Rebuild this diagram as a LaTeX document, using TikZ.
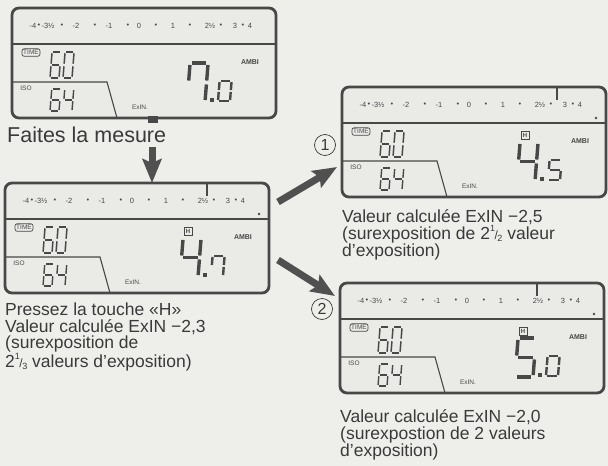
\documentclass[tikz,border=0pt]{standalone}
\usepackage{fontspec}
\setmainfont{Liberation Sans}
\usetikzlibrary{arrows.meta}
\definecolor{paper}{RGB}{238,238,235}
\definecolor{lcdbg}{RGB}{234,234,231}
\definecolor{lcd}{RGB}{72,72,72}
\definecolor{ink}{RGB}{58,58,58}
\definecolor{arrowgray}{RGB}{80,80,80}
% seven segments a..g in a 1 x 2 box
\newcommand{\sga}{\draw[seg] (0.1,2) -- (0.9,2);}
\newcommand{\sgb}{\draw[seg] (1,1.9) -- (1,1.1);}
\newcommand{\sgc}{\draw[seg] (1,0.9) -- (1,0.1);}
\newcommand{\sgd}{\draw[seg] (0.1,0) -- (0.9,0);}
\newcommand{\sge}{\draw[seg] (0,0.1) -- (0,0.9);}
\newcommand{\sgf}{\draw[seg] (0,1.1) -- (0,1.9);}
\newcommand{\sgg}{\draw[seg] (0.1,1) -- (0.9,1);}
\newcommand{\dgzero}{\sga\sgb\sgc\sgd\sge\sgf}
\newcommand{\dgfour}{\sgb\sgc\sgf\sgg}
\newcommand{\dgfive}{\sga\sgc\sgd\sgf\sgg}
\newcommand{\dgsix}{\sga\sgc\sgd\sge\sgf\sgg}
\newcommand{\dgseven}{\sga\sgb\sgc\sgf}
\newcommand{\lcddigit}[6]{%
  \begin{scope}[shift={(#1,#2)}, x={(#3pt,0pt)}, y={(0.04*#4pt,0.5*#4pt)},
      seg/.append style={line width=#5pt}]
    #6
  \end{scope}}
\newcommand{\frc}[2]{\raisebox{0.42em}{\fontsize{9}{9}\selectfont #1}\kern-0.5pt{\fontsize{12}{12}\selectfont/}\kern-0.5pt\raisebox{-0.12em}{\fontsize{9}{9}\selectfont #2}}
\tikzset{
  lcdframe/.style={draw=lcd, fill=lcdbg, line width=2.8pt, rounded corners=7pt,
    minimum width=264pt, minimum height=110pt, inner sep=0pt, outer sep=0pt},
  lcdline/.style={draw=lcd, line width=2pt},
  lcdthin/.style={draw=lcd, line width=1.1pt},
  seg/.style={draw=lcd, line cap=butt},
  scaletxt/.style={font=\fontsize{7.5}{7.5}\selectfont, text=lcd, inner sep=0pt},
  lcdtxt/.style={font=\fontsize{6.5}{6.5}\selectfont, text=lcd, inner sep=0pt},
  timebox/.style={lcdtxt, draw=lcd, line width=0.7pt, rounded corners=2pt, inner xsep=1.2pt, inner ysep=1.5pt},
  hbox/.style={lcdtxt, font=\fontsize{6}{6}\selectfont\bfseries, draw=lcd, line width=0.9pt, minimum size=8pt},
  labeltxt/.style={anchor=base west, align=left, inner sep=0pt, text=ink,
    font=\fontsize{17.5}{16.7}\selectfont},
  numcirc/.style={circle, draw=ink, line width=0.7pt, minimum size=21pt, inner sep=0pt,
    text=ink, font=\fontsize{16}{16}\selectfont},
  bigarrow/.style={draw=arrowgray, line width=7pt, -{Stealth[length=24pt,width=19pt,inset=4pt]}}
}
\newcommand{\lcdpanel}[4]{%
  \node[lcdframe, anchor=north west] (#1) at #2 {};
  \begin{scope}[shift={(#1.north west)}]
    \draw[lcdline] (0,36) -- (264,36);
    \draw[lcdthin] (0,74) -- (95,74) -- (105,110);
    \foreach \sx/\st in {21/-4, 27/•, 36/-3½, 50/•, 64/-2, 83/•, 97/-1, 116/•, 127/0, 144/•,
      161/1, 178/•, 198/2½, 209/•, 223/3, 231/•, 238/4}
      {\node[scaletxt] (#1-s\sx) at (\sx,18) {\st};}
    \node[timebox] (#1-time) at (19,44.5) {TIME};
    \node[lcdtxt] (#1-iso) at (14,80) {ISO};
    \node[lcdtxt] (#1-exin) at (128,99) {ExIN.};
    \node[lcdtxt, font=\fontsize{7}{7}\selectfont\bfseries] (#1-ambi) at (238,54) {AMBI};
    \lcddigit{38}{70}{9}{26}{1.5}{\dgsix}
    \lcddigit{51}{70}{9}{26}{1.5}{\dgzero}
    \lcddigit{38}{103}{9}{22}{1.4}{\dgsix}
    \lcddigit{51}{103}{9}{22}{1.4}{\dgfour}
    \lcddigit{175}{94}{18}{39}{3.4}{#3}
    \fill[lcd] (198,90) rectangle (202,94);
    \lcddigit{206}{93}{12}{20}{2.4}{#4}
  \end{scope}}
\newcommand{\lcdmark}[2]{%
  \begin{scope}[shift={(#1.north west)}]
    \draw[lcdline] (#2,0) -- (#2,13);
    \node[hbox] (#1-h) at (183,48) {H};
    \fill[lcd] (254,31) circle (1.4pt);
  \end{scope}}
\begin{document}
\begin{tikzpicture}[x=1pt,y=-1pt]
\fill[paper] (0,0) rectangle (608,466);
\useasboundingbox (0,0) rectangle (608,466);
% the four displays
\lcdpanel{pA}{(12,8)}{\dgseven}{\dgzero}
\lcdpanel{pB}{(5,183)}{\dgfour}{\dgseven}
\lcdmark{pB}{202}
\lcdpanel{pC}{(342,87)}{\dgfour}{\dgfive}
\lcdmark{pC}{215}
\lcdpanel{pD}{(340,283)}{\dgfive}{\dgzero}
\lcdmark{pD}{197}
% tab under the first display
\fill[lcd] ([shift={(136,-2)}]pA.south west) rectangle ([shift={(146,5)}]pA.south west);
% captions (base = last line)
\node[labeltxt, font=\fontsize{21.5}{21.5}\selectfont] (tA) at (7,142) {Faites la mesure};
\node[labeltxt] (tB) at (5,367) {Pressez la touche «H»\\Valeur calculée ExIN −2,3\\(surexposition de\\2\frc13 valeurs d’exposition)};
\node[labeltxt] (tC) at (342,256) {Valeur calculée ExIN −2,5\\(surexposition de 2\frc12 valeur\\d’exposition)};
\node[labeltxt] (tD) at (340,456) {Valeur calculée ExIN −2,0\\(surexpostion de 2 valeurs\\d’exposition)};
\node[numcirc] (n1) at (325,145) {1};
\node[numcirc] (n2) at (322,309) {2};
% arrows
\coordinate (a0) at (152,147);
\coordinate (a1) at (278,202);
\coordinate (b1) at (337,167);
\coordinate (a2) at (278,260);
\coordinate (b2) at (335,296);
\draw[bigarrow] (a0) -- (a0 |- pB.north);
\draw[bigarrow] (a1) -- (b1);
\draw[bigarrow] (a2) -- (b2);
\end{tikzpicture}
\end{document}
